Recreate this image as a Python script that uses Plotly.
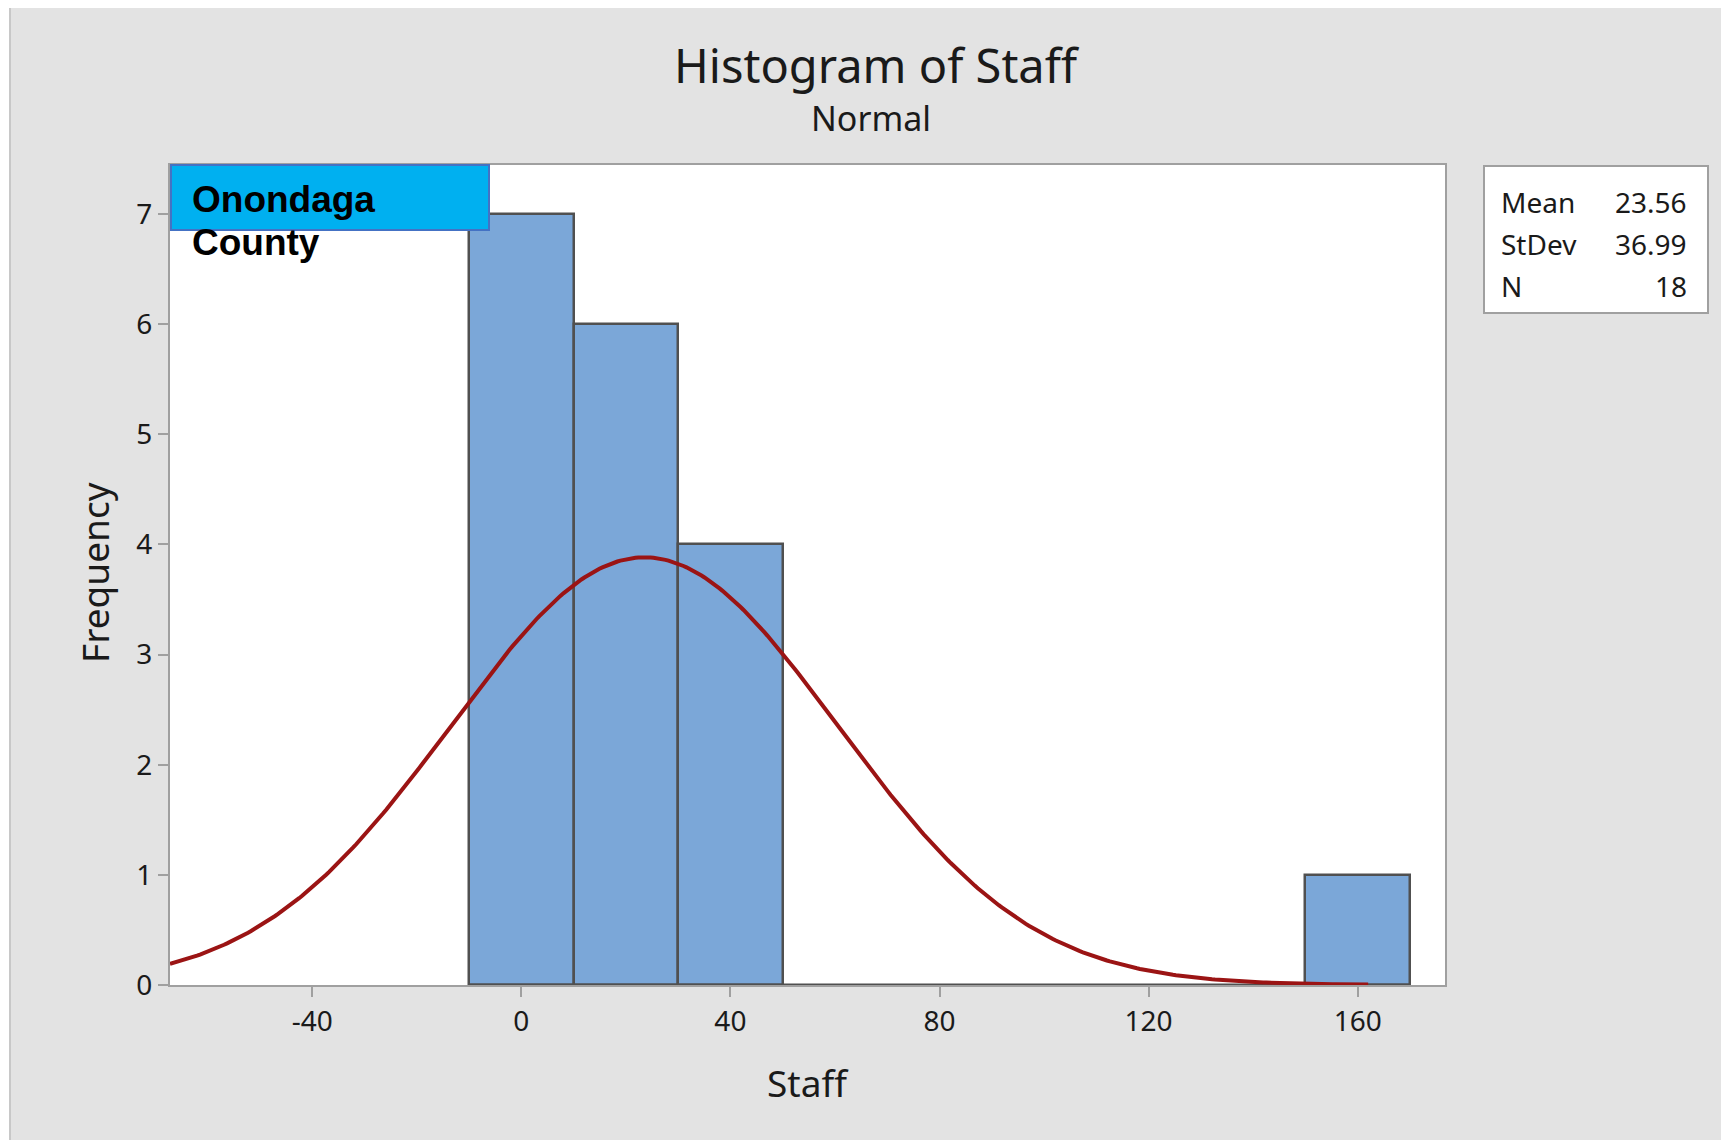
import numpy as np
import plotly.graph_objects as go

# histogram data
bin_centers = [0, 20, 40, 160]
frequency = [7, 6, 4, 1]
bin_width = 20
bin_lo, bin_hi = -10, 170

# fitted normal stats (legend box)
stat_labels = ["Mean", "StDev", "N"]
stat_values = ["23.56", "36.99", "18"]
mean, stdev, n = 23.56, 36.99, 18

x_ticks = [-40, 0, 40, 80, 120, 160]
y_ticks = [0, 1, 2, 3, 4, 5, 6, 7]
x_range = [-67.2, 176.7]
y_range = [0, 7.445]

# page body has an 8px margin, so the figure is a bit smaller and
# all positions below are given in screenshot pixels
OFF = 8
W, H = 1729 - OFF, 1140 - OFF
L, R, T, B = 170 - OFF, 284, 165 - OFF, 155
PW, PH = W - L - R, H - T - B


def px(x):
    return (x - OFF - L) / PW


def py(y):
    return (H - B - (y - OFF)) / PH


FONT = "Noto Sans"
TXT = "#1a1a1a"

# normal curve scaled to counts
xc = np.linspace(x_range[0], 162, 400)
yc = n * bin_width * np.exp(-0.5 * ((xc - mean) / stdev) ** 2) / (stdev * np.sqrt(2 * np.pi))

fig = go.Figure()

fig.add_trace(go.Bar(
    x=bin_centers, y=frequency, width=bin_width,
    marker=dict(color="#7BA7D8", line=dict(color="#505050", width=2.5)),
    showlegend=False, hoverinfo="x+y",
))

# dark baseline under the (empty) bins
fig.add_trace(go.Scatter(
    x=[bin_lo, bin_hi], y=[0, 0], mode="lines",
    line=dict(color="#505050", width=3), showlegend=False, hoverinfo="skip",
))

fig.add_trace(go.Scatter(
    x=xc, y=yc, mode="lines",
    line=dict(color="#9B1414", width=4), showlegend=False, hoverinfo="skip",
))

shapes = [
    # outer frame of the screenshot
    dict(type="rect", xref="paper", yref="paper", x0=px(-20), x1=px(10), y0=py(-20), y1=py(1160),
         fillcolor="white", line_width=0, layer="below"),
    dict(type="rect", xref="paper", yref="paper", x0=px(-20), x1=px(1760), y0=py(-20), y1=py(5),
         fillcolor="white", line_width=0, layer="below"),
    dict(type="line", xref="paper", yref="paper", x0=px(10), x1=px(1760), y0=py(5), y1=py(5),
         line=dict(color="#C8C8C8", width=2)),
    dict(type="line", xref="paper", yref="paper", x0=px(10), x1=px(10), y0=py(5), y1=py(1160),
         line=dict(color="#C8C8C8", width=2)),
    # stats box
    dict(type="rect", xref="paper", yref="paper", x0=px(1484), x1=px(1708), y0=py(166), y1=py(313),
         fillcolor="white", line=dict(color="#A0A0A0", width=2)),
    # county label box
    dict(type="rect", xref="paper", yref="paper", x0=px(171), x1=px(489), y0=py(165), y1=py(230),
         fillcolor="#00B0F0", line=dict(color="#4472C4", width=2)),
]

annotations = [
    dict(text="Histogram of Staff", x=px(877), y=py(65), font=dict(size=47, color=TXT, family=FONT)),
    dict(text="Normal", x=px(871), y=py(118), font=dict(size=34, color=TXT, family=FONT)),
    dict(text="Staff", x=px(808), y=py(1082), font=dict(size=37, color=TXT, family=FONT)),
    dict(text="Frequency", x=px(94), y=py(573), textangle=-90, font=dict(size=37, color=TXT, family=FONT)),
    dict(text="<b>Onondaga</b>", x=px(190), y=py(199), xanchor="left",
         font=dict(size=37, color="black", family="Liberation Sans")),
    dict(text="<b>County</b>", x=px(190), y=py(243), xanchor="left",
         font=dict(size=37, color="black", family="Liberation Sans")),
]
for i, (lab, val) in enumerate(zip(stat_labels, stat_values)):
    yy = py(202 + 42 * i)
    annotations.append(dict(text=lab, x=px(1499), y=yy, xanchor="left",
                            font=dict(size=28, color=TXT, family=FONT)))
    annotations.append(dict(text=val, x=px(1689), y=yy, xanchor="right",
                            font=dict(size=28, color=TXT, family=FONT)))
for a in annotations:
    a.update(xref="paper", yref="paper", showarrow=False)
    a.setdefault("xanchor", "center")
    a.setdefault("yanchor", "middle")

fig.update_layout(
    width=W, height=H,
    margin=dict(l=L, r=R, t=T, b=B),
    paper_bgcolor="#E3E3E3", plot_bgcolor="white",
    bargap=0, shapes=shapes, annotations=annotations,
    font=dict(family=FONT, color=TXT),
)
fig.update_xaxes(
    range=x_range, tickvals=x_ticks, ticktext=[str(v) for v in x_ticks],
    ticks="outside", ticklen=10, tickwidth=2, tickcolor="#A0A0A0",
    showline=True, linecolor="#A0A0A0", linewidth=2, mirror=True, showgrid=False, zeroline=False,
    tickfont=dict(size=28, family=FONT, color=TXT), ticklabelstandoff=0,
)
fig.update_yaxes(
    range=y_range, tickvals=y_ticks, ticktext=[str(v) for v in y_ticks],
    ticks="outside", ticklen=10, tickwidth=2, tickcolor="#A0A0A0",
    showline=True, linecolor="#A0A0A0", linewidth=2, mirror=True, showgrid=False, zeroline=False,
    tickfont=dict(size=28, family=FONT, color=TXT), ticklabelstandoff=0,
)

fig.write_html("out.html")
